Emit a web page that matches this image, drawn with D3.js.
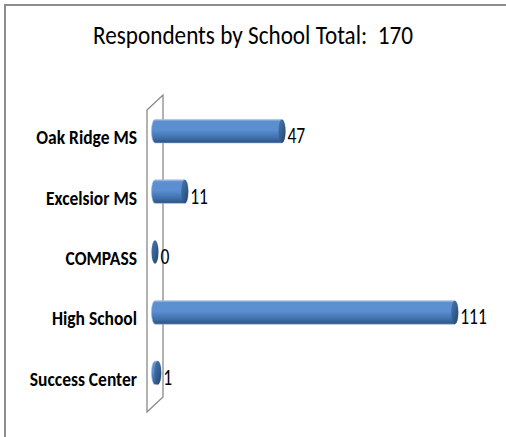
<!DOCTYPE html>
<html><head><meta charset="utf-8">
<script src="https://cdn.jsdelivr.net/npm/d3@7"></script>
<style>
html,body{margin:0;padding:0;background:#fff;}
svg{display:block;}
</style></head>
<body>
<script>
const categories = ["Oak Ridge MS", "Excelsior MS", "COMPASS", "High School", "Success Center"];
const values = [47, 11, 0, 111, 1];
const titleText = "Respondents by School Total:  170";

const W = 506, H = 437;
const FONT = "Carlito, 'Liberation Sans Narrow', 'Open Sans', sans-serif";
const svg = d3.select("body").append("svg").attr("width", W).attr("height", H);

// outer border (left and top visible)
svg.append("path").attr("d", "M5,437 L5,5 L506,5").attr("fill","none")
  .attr("stroke","#8c8c8c").attr("stroke-width",2);

svg.append("g").attr("transform","translate(253,44) scale(1,1.2)")
  .append("text").attr("text-anchor","middle").style("white-space","pre")
  .attr("font-family", FONT).attr("font-size", 22).attr("fill","#000")
  .attr("textLength", 320).attr("lengthAdjust","spacingAndGlyphs")
  .text(titleText);

const x = d3.scaleLinear().domain([0, 120]).range([155, 155 + 120*2.7]);
const y = d3.scaleBand().domain(categories).range([101, 403]).padding(0);
const bh = 23.5, rx = 3.5;

// gradient
const defs = svg.append("defs");
const g = defs.append("linearGradient").attr("id","cyl").attr("x1",0).attr("y1",0).attr("x2",0).attr("y2",1);
[[0,"#a9c1e2"],[0.08,"#5d8fcf"],[0.45,"#5b8fd2"],[0.8,"#3d6ea8"],[1,"#2a5183"]].forEach(([o,c])=>g.append("stop").attr("offset",o).attr("stop-color",c));
const gc = defs.append("linearGradient").attr("id","cap").attr("x1",0).attr("y1",0).attr("x2",1).attr("y2",1);
[[0,"#4a78b0"],[1,"#24456f"]].forEach(([o,c])=>gc.append("stop").attr("offset",o).attr("stop-color",c));

// wall
const x0 = x(0);
const yTop = y.range()[0], yBot = y.range()[1];
const wall = svg.append("g").attr("fill","none").attr("stroke","#8a8a8a").attr("stroke-width",1.3);
wall.append("path").attr("d", `M${x0-8},${yTop+9} L${x0+8},${yTop-6} L${x0+8},${yBot-6} L${x0-8},${yBot+9} Z`);

// bars
const bars = svg.append("g");
categories.forEach((c,i)=>{
  const v = values[i];
  const cy = y(c) + y.bandwidth()/2;
  const xs = x(0), xe = x(v);
  const grp = bars.append("g");
  if (xe - xs > 0.5) {
    grp.append("path")
      .attr("d", `M${xs},${cy-bh/2} L${xe},${cy-bh/2} A${rx},${bh/2} 0 0 1 ${xe},${cy+bh/2} L${xs},${cy+bh/2} A${rx},${bh/2} 0 0 1 ${xs},${cy-bh/2} Z`)
      .attr("fill","url(#cyl)").attr("stroke","#9fb6d6").attr("stroke-width",0.6);
  }
  grp.append("ellipse").attr("cx", xe).attr("cy", cy).attr("rx", rx).attr("ry", bh/2)
    .attr("fill","url(#cap)");
  svg.append("g").attr("transform", `translate(${xe + rx + 2},${cy + 12}) scale(1,1.3)`)
    .append("text")
    .attr("font-family", FONT).attr("font-size", 17.5).attr("fill","#000").text(v);
  svg.append("g").attr("transform", `translate(137,${cy + 13}) scale(1,1.18)`)
    .append("text").attr("text-anchor","end")
    .attr("font-family", FONT).attr("font-weight","bold").attr("font-size", 17.5).attr("fill","#000").text(c);
});
</script>
</body></html>
